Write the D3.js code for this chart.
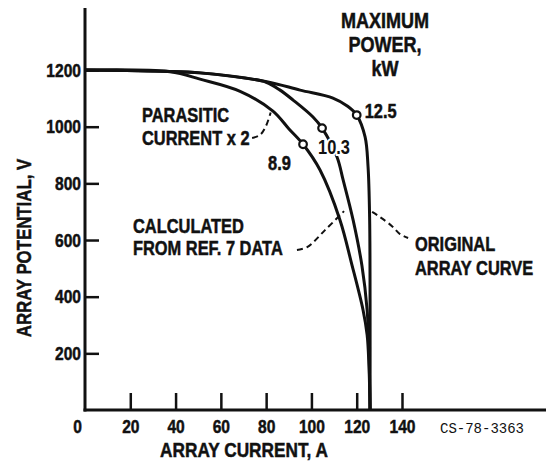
<html>
<head>
<title>Array current vs potential</title>
<script src="https://cdnjs.cloudflare.com/ajax/libs/d3/7.8.5/d3.min.js"></script>
<style>
body { margin: 0; background: #fff; }
svg { display: block; }
text { font-family: "Liberation Sans", Arial, sans-serif; font-weight: bold; fill: #111; stroke: #111; stroke-width: 0.5; }
.axis path { display: none; }
.axis line { stroke: #111; stroke-width: 2.5; }
.axis text { font-size: 19px; font-family: "Liberation Sans", Arial, sans-serif; }
path.curve { fill: none; stroke: #111; stroke-width: 3; }
path.leader { fill: none; stroke: #111; stroke-width: 2; stroke-dasharray: 6 4; }
circle.mark { fill: #fff; stroke: #111; stroke-width: 2.2; }
text.halo { stroke: #fff; stroke-width: 4; paint-order: stroke; }
</style>
</head>
<body>

<svg width="546" height="464"></svg>

<script>

// values (current in A, potential in V)
var xTicks = [0, 20, 40, 60, 80, 100, 120, 140];
var yTicks = [200, 400, 600, 800, 1000, 1200];

var originalCurve = [[0,1200],[37.5,1195],[50.8,1190],[80.3,1159],[95,1129],[109.5,1101],[116,1072],[120,1041],[123.7,964],[125,860],[125.7,680],[125.9,390],[125.9,0]];
var curve103 = [[0,1200],[37.5,1195],[50.8,1190],[70,1173],[80,1157],[86,1130],[91.9,1094],[100.7,1034],[104.7,995],[111.3,893],[114,812],[118.4,671],[122.3,510],[124.6,353],[125.4,212],[125.9,0]];
var curve89 = [[0,1200],[37.5,1194],[50.8,1168],[68.5,1125],[83,1055],[90,993],[96.3,938],[103.8,847],[112.6,671],[117.8,515],[122.8,353],[124.6,265],[125.4,159],[125.9,0]];

var maxPoints = [
	{a: 120, v: 1041, label: "12.5"},
	{a: 104.7, v: 995, label: "10.3"},
	{a: 96.3, v: 938, label: "8.9"}
];

var leaderParasitic = [[73.8,960],[77.3,971],[79.9,1002],[82,1050]];
var leaderCalculated = [[93.6,565],[98.1,575],[106,635],[114.4,702]];
var leaderOriginal = [[126.8,699],[130.3,681],[135.6,649],[139.1,621],[142.7,607]];

var svg = d3.select("svg");

var x = d3.scaleLinear().domain([0, 203.6]).range([85, 546]);
var y = d3.scaleLinear().domain([0, 1419]).range([410, 8]);

var line = d3.line()
	.x(function (d) { return x(d[0]); })
	.y(function (d) { return y(d[1]); })
	.curve(d3.curveCatmullRom.alpha(0.5));

// squeeze text horizontally to get the condensed lettering of the original
function narrow(sel, k) {
	sel.each(function () {
		var len = this.getComputedTextLength();
		d3.select(this).attr("textLength", len * k).attr("lengthAdjust", "spacingAndGlyphs");
	});
}

// axes: ticks point inward, labels outside
var xAxis = svg.append("g").attr("class", "axis")
	.attr("transform", "translate(0," + y(0) + ")")
	.call(d3.axisBottom(x).tickValues(xTicks).tickFormat(d3.format("d"))
		.tickSizeInner(-17).tickSizeOuter(0).tickPadding(10));
xAxis.selectAll(".tick").filter(function (d) { return d === 0; }).select("text").attr("dx", -8);
xAxis.selectAll(".tick").filter(function (d) { return d === 0; }).select("line").remove();
xAxis.selectAll("text").attr("fill", "#111");
narrow(xAxis.selectAll("text"), 0.82);

var yAxis = svg.append("g").attr("class", "axis")
	.attr("transform", "translate(" + x(0) + ",0)")
	.call(d3.axisLeft(y).tickValues(yTicks).tickFormat(d3.format("d"))
		.tickSizeInner(-14).tickSizeOuter(0).tickPadding(4));
yAxis.selectAll("text").attr("fill", "#111");
narrow(yAxis.selectAll("text"), 0.82);

svg.append("line")
	.attr("x1", x(0)).attr("x2", x(0))
	.attr("y1", y(1419)).attr("y2", y(0) + 1.5)
	.style("stroke", "#111").style("stroke-width", 3);
svg.append("line")
	.attr("x1", x(0) - 1.5).attr("x2", x(203.6))
	.attr("y1", y(0)).attr("y2", y(0))
	.style("stroke", "#111").style("stroke-width", 3);

narrow(svg.append("text")
	.attr("x", 244).attr("y", 457)
	.attr("text-anchor", "middle")
	.style("font-size", "21px")
	.text("ARRAY CURRENT, A"), 0.82);

narrow(svg.append("text")
	.attr("transform", "translate(31,248) rotate(-90)")
	.attr("text-anchor", "middle")
	.style("font-size", "20.5px")
	.text("ARRAY POTENTIAL, V"), 0.82);

// curves
[originalCurve, curve103, curve89].forEach(function (c) {
	svg.append("path").attr("class", "curve").attr("d", line(c));
});

[leaderParasitic, leaderCalculated, leaderOriginal].forEach(function (c) {
	svg.append("path").attr("class", "leader").attr("d", line(c));
});

svg.selectAll("circle.mark").data(maxPoints).enter().append("circle")
	.attr("class", "mark")
	.attr("cx", function (d) { return x(d.a); })
	.attr("cy", function (d) { return y(d.v); })
	.attr("r", 3.8);

var labelOffsets = {"12.5": [8, 3], "10.3": [-4, 26], "8.9": [-35, 26]};
narrow(svg.selectAll("text.pt").data(maxPoints).enter().append("text")
	.attr("class", function (d) { return d.label === "10.3" ? "pt halo" : "pt"; })
	.attr("x", function (d) { return x(d.a) + labelOffsets[d.label][0]; })
	.attr("y", function (d) { return y(d.v) + labelOffsets[d.label][1]; })
	.style("font-size", "20px")
	.text(function (d) { return d.label; }), 0.82);

// annotations
function block(lines, px, py, gap, size, anchor) {
	var t = svg.append("text").attr("text-anchor", anchor || "start").style("font-size", size + "px");
	lines.forEach(function (s, i) {
		t.append("tspan").attr("x", px).attr("y", py + i * gap).text(s);
	});
	narrow(t.selectAll("tspan"), 0.82);
}
block(["MAXIMUM", "POWER,", "kW"], 385, 28, 24, 22, "middle");
block(["PARASITIC", "CURRENT x 2"], 142, 122, 23, 20);
block(["CALCULATED", "FROM REF. 7 DATA"], 133, 233, 22, 20);
block(["ORIGINAL", "ARRAY CURVE"], 415, 251, 24, 20);

svg.append("text")
	.attr("x", 440).attr("y", 433)
	.style("font-family", "'Liberation Mono', 'DejaVu Sans Mono', monospace")
	.style("font-weight", "normal")
	.style("stroke-width", 0)
	.style("font-size", "14px")
	.text("CS-78-3363");

</script>
</body>
</html>
